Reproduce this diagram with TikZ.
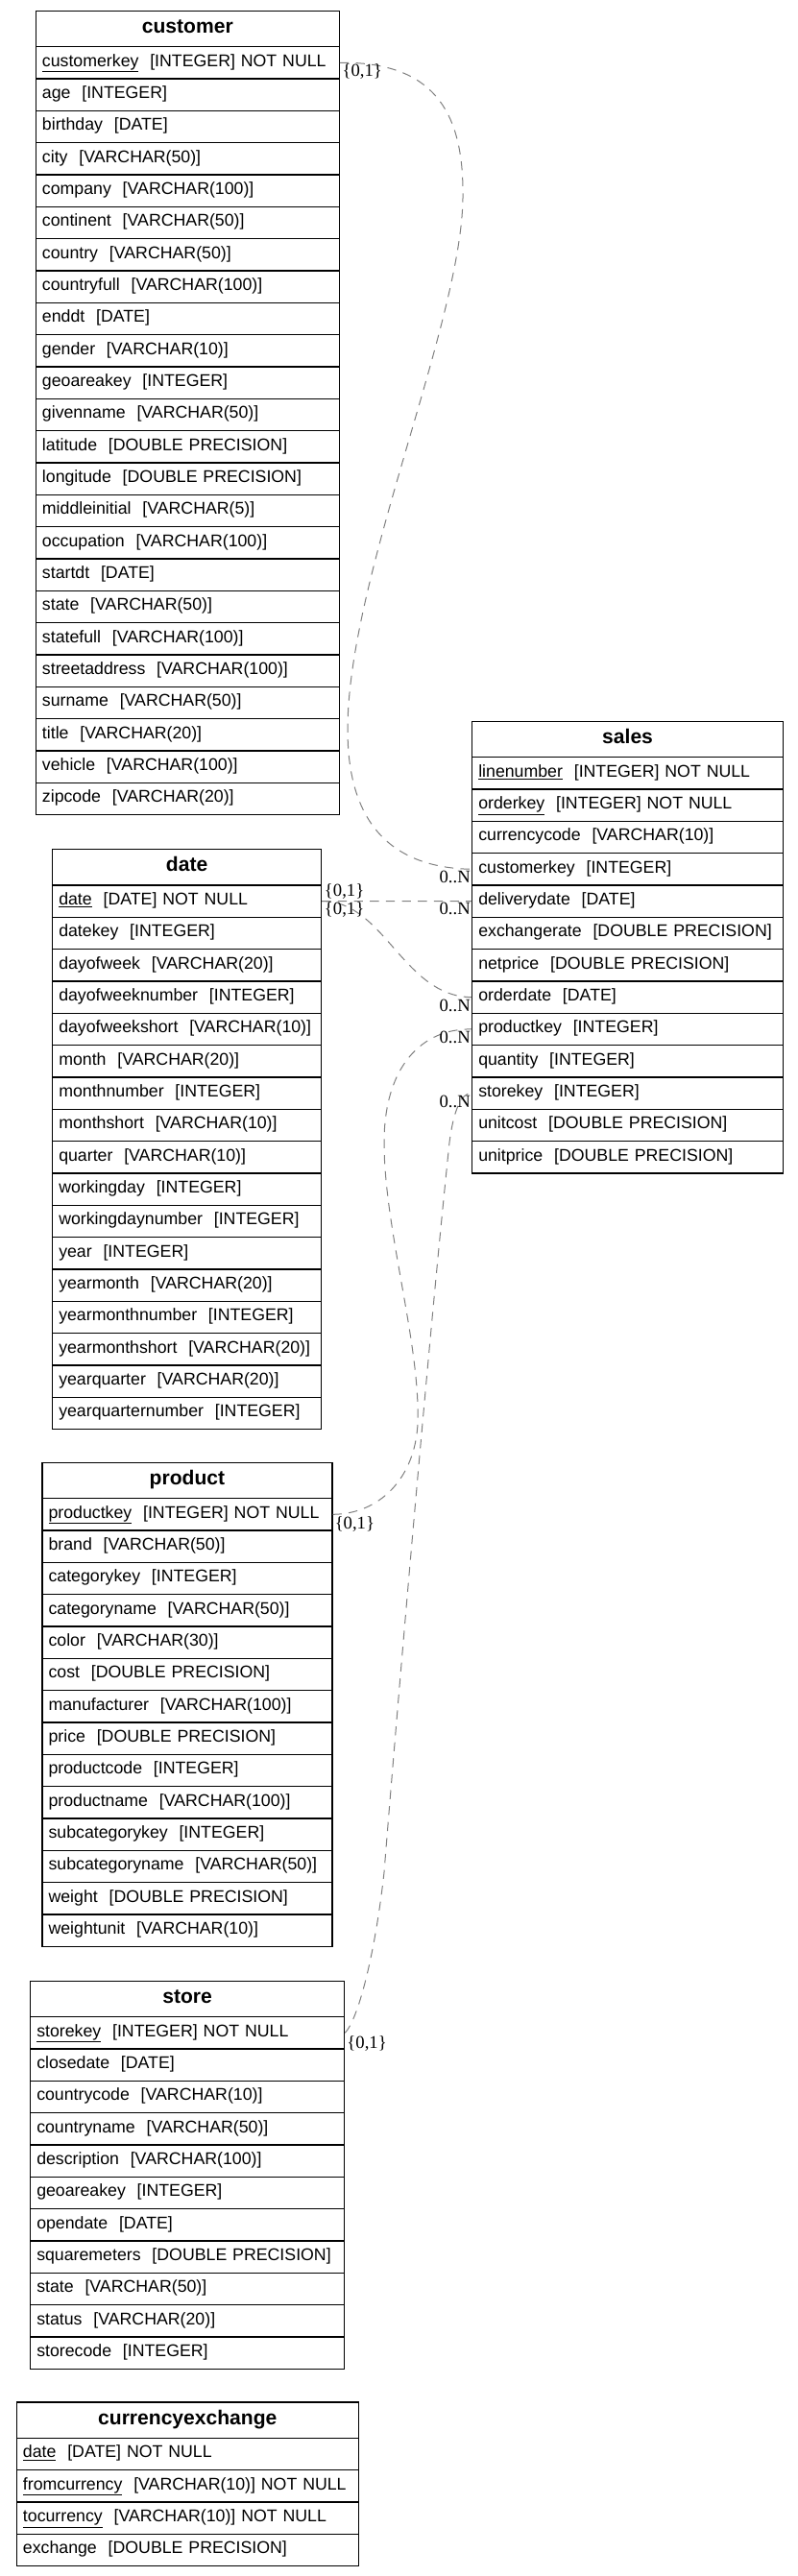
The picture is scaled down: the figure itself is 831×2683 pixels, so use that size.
\documentclass[tikz,border=0pt]{standalone}
\usepackage{fontspec}
\setmainfont{Liberation Sans}
\newfontfamily\lserif{Liberation Serif}
\usetikzlibrary{calc}
\definecolor{edgegray}{RGB}{128,128,128}
\newcommand\ertable[6]{%
  \node[hdr, text width={(#4)*0.75pt-10pt}, anchor=north west] (#1) at (#3,#5) {#2};
  \foreach \txt [count=\i] in {#6} {
    \node[rowc, text width={(#4)*0.75pt-10pt}, anchor=north west] (#1-\i) at (#3,{#5+37.33+(\i-1)*33.33}) {\mbox{\txt}};
  }
}
\begin{document}
\begin{tikzpicture}[x=0.75pt,y=-0.75pt,
  hdr/.style={draw=black, line width=0.9pt, inner xsep=5pt, inner ysep=0pt, minimum height=28pt, align=center,
    font=\bfseries\fontsize{15.8}{19}\selectfont, text height=10pt, text depth=3.3pt},
  rowc/.style={draw=black, line width=0.9pt, inner xsep=5pt, inner ysep=0pt, minimum height=25pt, align=left,
    font=\fontsize{13.3}{16}\selectfont, text height=9pt, text depth=3.3pt},
  rel/.style={draw=edgegray, line width=0.75pt, dash pattern=on 7pt off 5.5pt},
  lab/.style={inner sep=0pt, font=\lserif\fontsize{14}{16}\selectfont}]
\path[use as bounding box, fill=white] (0,0) rectangle (831,2683);

\ertable{customer}{customer}{36.7}{316}{10.7}{\underline{customerkey}~~[INTEGER] NOT NULL, age~~[INTEGER], birthday~~[DATE], city~~[VARCHAR(50)], company~~[VARCHAR(100)], continent~~[VARCHAR(50)], country~~[VARCHAR(50)], countryfull~~[VARCHAR(100)], enddt~~[DATE], gender~~[VARCHAR(10)], geoareakey~~[INTEGER], givenname~~[VARCHAR(50)], latitude~~[DOUBLE PRECISION], longitude~~[DOUBLE PRECISION], middleinitial~~[VARCHAR(5)], occupation~~[VARCHAR(100)], startdt~~[DATE], state~~[VARCHAR(50)], statefull~~[VARCHAR(100)], streetaddress~~[VARCHAR(100)], surname~~[VARCHAR(50)], title~~[VARCHAR(20)], vehicle~~[VARCHAR(100)], zipcode~~[VARCHAR(20)]}

\ertable{sales}{sales}{491}{324}{750.7}{\underline{linenumber}~~[INTEGER] NOT NULL, \underline{orderkey}~~[INTEGER] NOT NULL, currencycode~~[VARCHAR(10)], customerkey~~[INTEGER], deliverydate~~[DATE], exchangerate~~[DOUBLE PRECISION], netprice~~[DOUBLE PRECISION], orderdate~~[DATE], productkey~~[INTEGER], quantity~~[INTEGER], storekey~~[INTEGER], unitcost~~[DOUBLE PRECISION], unitprice~~[DOUBLE PRECISION]}

\ertable{date}{date}{54}{280}{884}{\underline{date}~~[DATE] NOT NULL, datekey~~[INTEGER], dayofweek~~[VARCHAR(20)], dayofweeknumber~~[INTEGER], dayofweekshort~~[VARCHAR(10)], month~~[VARCHAR(20)], monthnumber~~[INTEGER], monthshort~~[VARCHAR(10)], quarter~~[VARCHAR(10)], workingday~~[INTEGER], workingdaynumber~~[INTEGER], year~~[INTEGER], yearmonth~~[VARCHAR(20)], yearmonthnumber~~[INTEGER], yearmonthshort~~[VARCHAR(20)], yearquarter~~[VARCHAR(20)], yearquarternumber~~[INTEGER]}

\ertable{product}{product}{43.3}{302}{1522.7}{\underline{productkey}~~[INTEGER] NOT NULL, brand~~[VARCHAR(50)], categorykey~~[INTEGER], categoryname~~[VARCHAR(50)], color~~[VARCHAR(30)], cost~~[DOUBLE PRECISION], manufacturer~~[VARCHAR(100)], price~~[DOUBLE PRECISION], productcode~~[INTEGER], productname~~[VARCHAR(100)], subcategorykey~~[INTEGER], subcategoryname~~[VARCHAR(50)], weight~~[DOUBLE PRECISION], weightunit~~[VARCHAR(10)]}

\ertable{store}{store}{31}{327}{2062.7}{\underline{storekey}~~[INTEGER] NOT NULL, closedate~~[DATE], countrycode~~[VARCHAR(10)], countryname~~[VARCHAR(50)], description~~[VARCHAR(100)], geoareakey~~[INTEGER], opendate~~[DATE], squaremeters~~[DOUBLE PRECISION], state~~[VARCHAR(50)], status~~[VARCHAR(20)], storecode~~[INTEGER]}

\ertable{currencyexchange}{currencyexchange}{16.7}{356}{2501.3}{\underline{date}~~[DATE] NOT NULL, \underline{fromcurrency}~~[VARCHAR(10)] NOT NULL, \underline{tocurrency}~~[VARCHAR(10)] NOT NULL, exchange~~[DOUBLE PRECISION]}

% relationships
\draw[rel] (customer-1.east) .. controls (450,64) and (482,115) .. (482,200)
  .. controls (484,330) and (362,600) .. (362,760)
  .. controls (362,870) and (420,904) .. (sales-4.west);
\draw[rel] (date-1.east) -- (sales-5.west);
\draw[rel] (date-1.east) .. controls (400,938) and (420,1038) .. (sales-8.west);
\draw[rel] (product-1.east) .. controls (395,1577) and (432,1540) .. (435,1483)
  .. controls (438,1400) and (400,1280) .. (400,1190)
  .. controls (400,1110) and (440,1071) .. (sales-9.west);
\draw[rel] (store-1.east) .. controls (372,2105) and (390,2040) .. (400,1950)
  .. controls (416,1750) and (448,1380) .. (468,1190)
  .. controls (472,1158) and (480,1138) .. (sales-11.west);

% labels
\node[lab, anchor=north west] (l1) at ($(customer-1.east)+(2.5,1)$) {\{0,1\}};
\node[lab, anchor=north east] (l2) at ($(sales-4.west)+(-1,2)$) {0..N};
\node[lab, anchor=south west] (l3) at ($(date-1.east)+(2.5,-2)$) {\{0,1\}};
\node[lab, anchor=north west] (l4) at ($(date-1.east)+(2.5,1)$) {\{0,1\}};
\node[lab, anchor=north east] (l5) at ($(sales-5.west)+(-1,1)$) {0..N};
\node[lab, anchor=north east] (l6) at ($(sales-8.west)+(-1,2)$) {0..N};
\node[lab, anchor=north east] (l7) at ($(sales-9.west)+(-1,1.5)$) {0..N};
\node[lab, anchor=north east] (l8) at ($(sales-11.west)+(-1,2)$) {0..N};
\node[lab, anchor=north west] (l9) at ($(product-1.east)+(2,1.5)$) {\{0,1\}};
\node[lab, anchor=north west] (l10) at ($(store-1.east)+(2,3)$) {\{0,1\}};
\end{tikzpicture}
\end{document}
